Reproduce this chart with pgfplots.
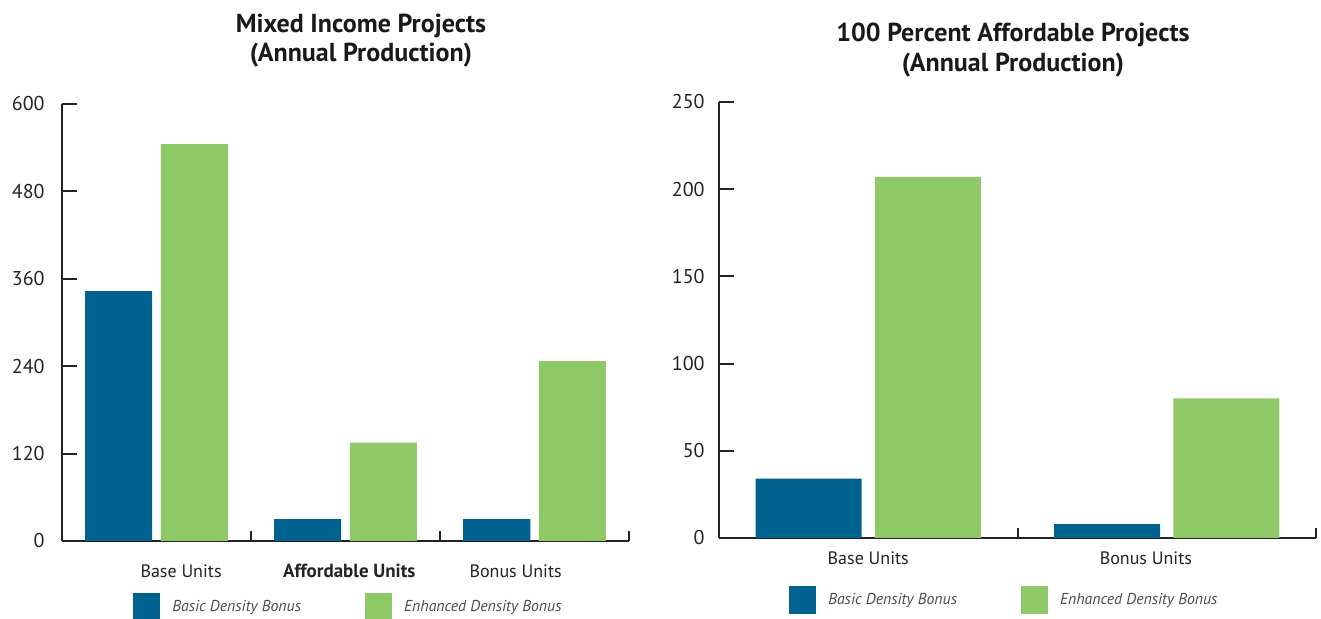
\documentclass[border=0pt]{standalone}
\usepackage{fontspec}
\setmainfont{PT Sans}
\usepackage{pgfplots}
\usepackage{pgfplotstable}
\pgfplotsset{compat=1.18}

\definecolor{basicblue}{RGB}{0,98,142}
\definecolor{enhgreen}{RGB}{143,201,103}
\definecolor{axisgray}{RGB}{35,35,35}
\definecolor{legendgray}{RGB}{75,75,75}

% annual production
\pgfplotstableread{
x basic enhanced
0 343 545
1 30  135
2 30  247
}\mixed
\pgfplotstableread{
x basic enhanced
0 34 207
1 8  80
}\affordable

\pgfplotsset{
  sq legend/.style={legend image code/.code={\fill[##1] (0pt,-6.75pt) rectangle (13.5pt,7pt);}},
  units chart/.style={
    scale only axis,
    axis x line*=bottom,
    axis y line*=left,
    axis line style={axisgray, line width=1pt},
    ymin=0,
    xmin=-0.5,
    tick align=inside,
    major tick length=7.5pt,
    ytick style={axisgray, line width=1pt},
    xtick style={axisgray, line width=1pt, /pgfplots/major tick length=5pt},
    xticklabels={},
    extra x tick style={tick style={draw=none}},
    /pgf/number format/assume math mode=true,
    yticklabel style={font=\fontsize{10}{12}\selectfont, text=axisgray, inner sep=0pt, anchor=east},
    xticklabel style={font=\fontsize{9}{11}\selectfont, text=axisgray, inner sep=0pt, anchor=center},
    bar width=0.355,
    legend columns=2,
    legend style={draw=none, fill=none, inner sep=0pt, anchor=north west,
      cells={anchor=west},
      nodes={inner sep=0pt, font=\fontsize{7.9}{9}\selectfont\itshape, text=legendgray},
      /tikz/every odd column/.append style={column sep=6pt},
      /tikz/every even column/.append style={column sep=32pt}},
  },
}

\begin{document}
\begin{tikzpicture}
\useasboundingbox (0,0) rectangle (660.5pt,309.5pt);

\node[align=center, text=black!90, font=\bfseries\fontsize{13}{14.5}\selectfont] at (180.5pt,289pt)
  {Mixed Income Projects\\(Annual Production)};
\node[align=center, text=black!90, font=\bfseries\fontsize{13}{15}\selectfont] at (506.5pt,284.5pt)
  {100 Percent Affordable Projects\\(Annual Production)};

\begin{axis}[units chart,
    at={(31pt,39pt)}, anchor=south west,
    width=283.5pt, height=218.5pt,
    xmax=2.5, ymax=600,
    ytick={0,120,240,360,480,600},
    yticklabel style={xshift=-8.5pt},
    xtick={0.5,1.5,2.5},
    extra x ticks={0.13,1.02,1.9},
    extra x tick labels={Base Units,{\fontsize{9.5}{11}\selectfont\bfseries Affordable Units},Bonus Units},
    xticklabel style={yshift=-15pt},
    legend style={at={(0.125,-0.119)}},
]
\addplot[ybar, fill=basicblue, draw=none, bar shift=-0.2, sq legend] table[x=x, y=basic] {\mixed};
\addplot[ybar, fill=enhgreen, draw=none, bar shift=0.2, sq legend] table[x=x, y=enhanced] {\mixed};
\legend{Basic Density Bonus, Enhanced Density Bonus}
\end{axis}

\begin{axis}[units chart,
    at={(359.5pt,40.5pt)}, anchor=south west,
    width=298.5pt, height=218pt,
    xmax=1.5, ymax=250,
    ytick={0,50,100,150,200,250},
    yticklabel style={xshift=-7pt},
    xtick={0.5,1.5},
    extra x ticks={0,0.93},
    extra x tick labels={Base Units,Bonus Units},
    xticklabel style={yshift=-10pt},
    legend style={at={(0.117,-0.110)}},
]
\addplot[ybar, fill=basicblue, draw=none, bar shift=-0.2, sq legend] table[x=x, y=basic] {\affordable};
\addplot[ybar, fill=enhgreen, draw=none, bar shift=0.2, sq legend] table[x=x, y=enhanced] {\affordable};
\legend{Basic Density Bonus, Enhanced Density Bonus}
\end{axis}
\end{tikzpicture}
\end{document}
